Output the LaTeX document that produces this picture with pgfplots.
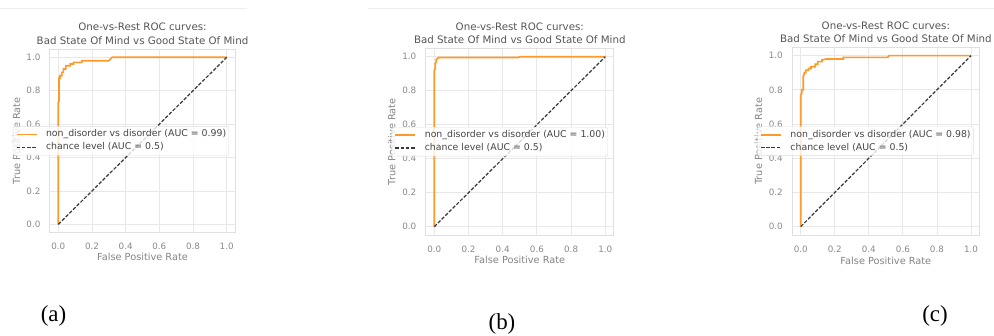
\documentclass[border=0pt]{standalone}
\usepackage{pgfplots}
\pgfplotsset{compat=1.18}
\usepackage{fontspec}
\setmainfont{DejaVu Sans}
\newfontfamily\capfont{Liberation Serif}
\definecolor{rocorange}{HTML}{FF9A2A}
\definecolor{gridc}{HTML}{E8E8E8}
\definecolor{framec}{HTML}{E0E0E0}
\definecolor{titlec}{HTML}{555555}
\definecolor{tickc}{HTML}{8A8A8A}
\definecolor{labelc}{HTML}{858585}
\definecolor{legc}{HTML}{454545}
\definecolor{legframe}{HTML}{DDDDDD}
\pgfplotsset{
  rocstyle/.style={
    scale only axis,
    anchor=south west,
    xmin=-0.05, xmax=1.05, ymin=-0.05, ymax=1.05,
    xtick={0,0.2,0.4,0.6,0.8,1.0},
    ytick={0,0.2,0.4,0.6,0.8,1.0},
    xticklabels={0.0,0.2,0.4,0.6,0.8,1.0},
    yticklabels={0.0,0.2,0.4,0.6,0.8,1.0},
    /pgf/number format/assume math mode=true,
    major tick length=0pt,
    grid=major,
    major grid style={draw=gridc, line width=0.9bp},
    axis line style={draw=framec, line width=0.9bp},
    ticklabel style={font=\fontsize{8.8}{10}\selectfont, text=tickc},
    xticklabel style={anchor=center, yshift=-14bp},
    yticklabel style={anchor=east, inner sep=0pt, xshift=-9.3bp},
    label style={font=\fontsize{9.8}{11}\selectfont, text=labelc},
    xlabel={False Positive Rate},
    ylabel={True Positive Rate},
    xlabel style={at={(axis description cs:0.5,-0.134)}, anchor=center},
    ylabel style={at={(axis description cs:-0.18,0.5)}, anchor=center},
    title={One-vs-Rest ROC curves:\\Bad State Of Mind vs Good State Of Mind},
    title style={align=center, font=\fontsize{10.3}{13.3}\selectfont, text=titlec,
      at={(axis description cs:0.5,1)}, anchor=south, inner sep=0pt, yshift=-1.5bp},
    legend cell align=left,
    legend image code/.code={\draw[##1] (0bp,0bp) -- (20bp,0bp);},
    legend style={at={(axis description cs:1,0.5)}, anchor=east, xshift=-6bp,
      font=\fontsize{9.4}{11}\selectfont, text=legc, draw=legframe,
      fill=white, fill opacity=0.8, text opacity=1, draw opacity=1, rounded corners=2bp,
      inner xsep=2.7bp, inner ysep=3.6bp,
      nodes={inner sep=0pt, text height=7bp, text depth=2bp},
      row sep=3.7bp, column sep=8.5bp},
  },
  roc/.style={draw=rocorange, line width=1.7bp, no markers},
  chance/.style={draw=black!78, line width=1.2bp, dash pattern=on 3.5bp off 1.7bp, no markers},
}
\begin{document}
\begin{tikzpicture}[x=1bp,y=1bp]
\useasboundingbox (0,0) rectangle (994,335);
\clip (0,0) rectangle (994,335);
\fill[white] (0,0) rectangle (994,335);
% faint screenshot edges
\draw[draw=black!7, line width=1bp] (0,326.7) -- (247,326.7);
\draw[draw=black!7, line width=1bp] (368,326.7) -- (994,326.7);

% ---------- (a) ----------
\begin{axis}[rocstyle, at={(49.9bp,102.3bp)}, width=185.2bp, height=183.7bp]
\addplot[roc] coordinates {
(0,0) (0,0.73) (0.004,0.74) (0.004,0.875) (0.01,0.875) (0.01,0.89) (0.02,0.89)
(0.02,0.91) (0.03,0.91) (0.03,0.93) (0.045,0.93) (0.045,0.95) (0.07,0.95)
(0.07,0.96) (0.09,0.96) (0.09,0.97) (0.14,0.97) (0.14,0.98) (0.30,0.98)
(0.31,0.99) (0.32,1.0) (1,1)};
\addlegendentry{non\_disorder vs disorder (AUC = 0.99)}
\addplot[chance] coordinates {(0,0) (1,1)};
\addlegendentry{chance level (AUC = 0.5)}
\end{axis}

% ---------- (b) ----------
\begin{axis}[rocstyle, at={(425.7bp,99.8bp)}, width=188.2bp, height=187bp]
\addplot[roc] coordinates {
(0,0) (0,0.92) (0.006,0.93) (0.006,0.96) (0.012,0.97) (0.012,0.985)
(0.02,0.99) (0.025,0.995) (0.49,0.995) (0.5,1.0) (1,1)};
\addlegendentry{non\_disorder vs disorder (AUC = 1.00)}
\addplot[chance] coordinates {(0,0) (1,1)};
\addlegendentry{chance level (AUC = 0.5)}
\end{axis}

% ---------- (c) ----------
\begin{axis}[rocstyle, at={(792.2bp,99.8bp)}, width=187.3bp, height=188.1bp]
\addplot[roc] coordinates {
(0,0) (0,0.77) (0.006,0.78) (0.006,0.80) (0.015,0.80) (0.015,0.88) (0.02,0.89)
(0.02,0.90) (0.03,0.90) (0.03,0.915) (0.045,0.915) (0.045,0.925) (0.06,0.925)
(0.06,0.935) (0.085,0.935) (0.085,0.95) (0.10,0.95) (0.10,0.965) (0.125,0.965)
(0.125,0.975) (0.15,0.98) (0.25,0.98) (0.25,0.99) (0.51,0.99) (0.52,1.0) (1,1)};
\addlegendentry{non\_disorder vs disorder (AUC = 0.98)}
\addplot[chance] coordinates {(0,0) (1,1)};
\addlegendentry{chance level (AUC = 0.5)}
\end{axis}

% captions
\node[font=\capfont\fontsize{23}{25}\selectfont, anchor=center] at (53.5,19) {(a)};
\node[font=\capfont\fontsize{23}{25}\selectfont, anchor=center] at (502,11) {(b)};
\node[font=\capfont\fontsize{23}{25}\selectfont, anchor=center] at (935,19) {(c)};
\end{tikzpicture}
\end{document}
